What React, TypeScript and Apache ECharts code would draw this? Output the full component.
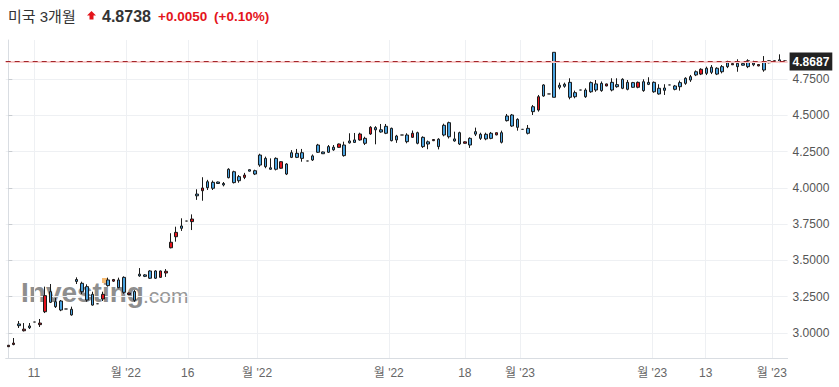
import React, { useEffect, useRef } from 'react';
import * as echarts from 'echarts';

const opens = [
  2.915, 2.930, 3.050, 3.026, 3.036, 3.075, 3.068, 3.257, 3.211, 3.181,
  3.158, 3.165, 3.124, 3.355, 3.284, 3.227, 3.192, 3.201, 3.266, 3.326,
  3.368, 3.312, 3.280, 3.275, 3.225, 3.393, 3.390, 3.377, 3.377, 3.427,
  3.425, 3.625, 3.693, 3.721, 3.771, 3.785, 3.945, 3.999, 4.001, 3.997,
  4.030, 4.020, 4.070, 4.036, 4.049, 4.088, 4.115, 4.095, 4.157, 4.146,
  4.128, 4.128, 4.180, 4.095, 4.210, 4.210, 4.203, 4.185, 4.192, 4.245,
  4.235, 4.245, 4.262, 4.302, 4.222, 4.310, 4.313, 4.371, 4.307, 4.417,
  4.400, 4.385, 4.376, 4.325, 4.330, 4.364, 4.318, 4.376, 4.307, 4.284,
  4.302, 4.333, 4.284, 4.364, 4.352, 4.323, 4.302, 4.317, 4.295, 4.370,
  4.341, 4.337, 4.341, 4.380, 4.314, 4.463, 4.426, 4.417, 4.403, 4.376,
  4.525, 4.628, 4.633, 4.647, 4.624, 4.693, 4.700, 4.624, 4.628, 4.674,
  4.628, 4.662, 4.674, 4.670, 4.716, 4.674, 4.697, 4.686, 4.679, 4.693,
  4.727, 4.670, 4.713, 4.662, 4.647, 4.672, 4.709, 4.679, 4.697, 4.720,
  4.743, 4.778, 4.817, 4.789, 4.796, 4.784, 4.800, 4.835, 4.856, 4.835,
  4.845, 4.835, 4.848, 4.850, 4.812, 4.862, 4.876, 4.866, 4.875,
];

const closes = [
  2.905, 2.920, 3.062, 3.015, 3.048, 3.075, 3.057, 3.146, 3.284, 3.215,
  3.220, 3.165, 3.163, 3.368, 3.342, 3.319, 3.266, 3.201, 3.234, 3.365,
  3.357, 3.365, 3.383, 3.265, 3.285, 3.405, 3.400, 3.427, 3.427, 3.383,
  3.413, 3.587, 3.663, 3.737, 3.771, 3.767, 3.957, 3.980, 4.042, 4.038,
  4.040, 4.030, 4.128, 4.111, 4.077, 4.072, 4.125, 4.118, 4.226, 4.203,
  4.138, 4.203, 4.135, 4.164, 4.242, 4.238, 4.242, 4.185, 4.220, 4.295,
  4.247, 4.284, 4.280, 4.279, 4.295, 4.323, 4.330, 4.330, 4.341, 4.371,
  4.415, 4.400, 4.424, 4.410, 4.357, 4.364, 4.364, 4.348, 4.380, 4.348,
  4.317, 4.325, 4.335, 4.431, 4.449, 4.337, 4.380, 4.307, 4.341, 4.387,
  4.369, 4.369, 4.376, 4.365, 4.380, 4.495, 4.502, 4.472, 4.403, 4.410,
  4.559, 4.536, 4.709, 4.647, 4.934, 4.707, 4.714, 4.727, 4.656, 4.674,
  4.674, 4.725, 4.716, 4.720, 4.702, 4.727, 4.711, 4.748, 4.727, 4.725,
  4.693, 4.731, 4.727, 4.727, 4.686, 4.688, 4.709, 4.702, 4.725, 4.755,
  4.766, 4.800, 4.784, 4.824, 4.831, 4.824, 4.835, 4.862, 4.848, 4.858,
  4.856, 4.876, 4.860, 4.840, 4.869, 4.876, 4.868, 4.882, 4.8687,
];

const lows = [
  2.903, 2.915, 3.034, 3.010, 3.027, 3.075, 3.041, 3.137, 3.206, 3.172,
  3.150, 3.165, 3.119, 3.337, 3.268, 3.215, 3.188, 3.201, 3.220, 3.319,
  3.352, 3.308, 3.270, 3.262, 3.215, 3.387, 3.385, 3.372, 3.372, 3.380,
  3.386, 3.583, 3.629, 3.703, 3.771, 3.709, 3.917, 3.911, 3.985, 3.985,
  4.028, 4.010, 4.065, 4.030, 4.035, 4.060, 4.113, 4.088, 4.145, 4.135,
  4.125, 4.120, 4.132, 4.088, 4.205, 4.205, 4.180, 4.185, 4.185, 4.240,
  4.233, 4.240, 4.255, 4.276, 4.215, 4.305, 4.310, 4.325, 4.295, 4.365,
  4.300, 4.380, 4.370, 4.320, 4.310, 4.364, 4.307, 4.345, 4.300, 4.275,
  4.266, 4.322, 4.265, 4.355, 4.340, 4.318, 4.295, 4.305, 4.275, 4.357,
  4.330, 4.328, 4.335, 4.362, 4.306, 4.457, 4.420, 4.394, 4.403, 4.368,
  4.502, 4.525, 4.628, 4.647, 4.624, 4.679, 4.690, 4.610, 4.617, 4.674,
  4.620, 4.655, 4.662, 4.662, 4.700, 4.665, 4.690, 4.680, 4.672, 4.690,
  4.686, 4.662, 4.708, 4.655, 4.642, 4.640, 4.709, 4.672, 4.670, 4.710,
  4.730, 4.770, 4.777, 4.777, 4.784, 4.777, 4.789, 4.825, 4.846, 4.800,
  4.843, 4.825, 4.838, 4.838, 4.800, 4.858, 4.866, 4.860, 4.866,
];

const highs = [
  2.917, 2.965, 3.082, 3.068, 3.068, 3.075, 3.096, 3.319, 3.337, 3.241,
  3.227, 3.165, 3.181, 3.383, 3.353, 3.335, 3.284, 3.201, 3.284, 3.381,
  3.372, 3.381, 3.390, 3.278, 3.295, 3.447, 3.405, 3.432, 3.432, 3.430,
  3.440, 3.687, 3.732, 3.790, 3.771, 3.817, 3.990, 4.073, 4.055, 4.050,
  4.043, 4.040, 4.135, 4.118, 4.088, 4.103, 4.127, 4.125, 4.235, 4.215,
  4.203, 4.210, 4.183, 4.170, 4.260, 4.268, 4.268, 4.185, 4.230, 4.303,
  4.250, 4.295, 4.295, 4.305, 4.318, 4.376, 4.378, 4.380, 4.352, 4.425,
  4.425, 4.440, 4.440, 4.415, 4.365, 4.364, 4.376, 4.395, 4.387, 4.355,
  4.326, 4.336, 4.342, 4.442, 4.456, 4.387, 4.387, 4.320, 4.348, 4.415,
  4.380, 4.380, 4.385, 4.381, 4.394, 4.509, 4.509, 4.479, 4.403, 4.433,
  4.571, 4.640, 4.714, 4.647, 4.934, 4.725, 4.725, 4.755, 4.670, 4.674,
  4.686, 4.733, 4.743, 4.733, 4.718, 4.755, 4.755, 4.755, 4.743, 4.730,
  4.733, 4.748, 4.762, 4.733, 4.714, 4.714, 4.709, 4.709, 4.739, 4.762,
  4.778, 4.809, 4.824, 4.835, 4.846, 4.831, 4.846, 4.876, 4.858, 4.886,
  4.858, 4.886, 4.876, 4.852, 4.908, 4.878, 4.878, 4.920, 4.878,
];

// x positions (in candle-index units) of the date ticks, and their labels
const xTickPositions = [4.9, 22.4, 34.2, 47.4, 72.5, 87.0, 97.5, 122.7, 132.9, 145.5];
const xTickLabels = ['11', "월 '22", '16', "월 '22", "월 '22", '18', "월 '23", "월 '23", '13', "월 '23"];

const yTickValues = [3.0, 3.25, 3.5, 3.75, 4.0, 4.25, 4.5, 4.75];
const lastPrice = 4.8687;

const title = '미국 3개월';
const quote = '4.8738';
const change = '+0.0050';
const changePct = '(+0.10%)';

const FONT = '"Liberation Sans", Arial, "Noto Sans CJK KR", sans-serif';

export default function App() {
  const ref = useRef<HTMLDivElement>(null);
  useEffect(() => {
    if (!ref.current) return;
    const chart = echarts.init(ref.current, undefined, { renderer: 'svg' });
    const data = opens.map((o, i) => [i, o, closes[i], lows[i], highs[i]]);
    const option: any = {
      animation: false,
      backgroundColor: '#ffffff',
      grid: { left: 5.7, right: 51.4, top: 40, bottom: 29, containLabel: false },
      xAxis: {
        type: 'value',
        min: -0.5,
        max: opens.length - 0.5,
        axisLine: { show: true, lineStyle: { color: '#d9dde2', width: 1 } },
        axisTick: { show: false, customValues: xTickPositions },
        axisLabel: {
          customValues: xTickPositions,
          color: '#666',
          fontSize: 12,
          fontFamily: FONT,
          margin: 9,
          formatter: (v: number) => {
            const k = xTickPositions.findIndex((p) => Math.abs(p - v) < 1e-6);
            return k >= 0 ? xTickLabels[k] : '';
          },
        },
        splitLine: { show: true, lineStyle: { color: '#eef0f3', width: 1 } },
      },
      yAxis: {
        type: 'value',
        position: 'right',
        min: 2.8272,
        max: 5.0188,
        scale: true,
        axisLine: { show: true, lineStyle: { color: '#d9dde2', width: 1 } },
        axisTick: { show: true, customValues: yTickValues, length: 4, lineStyle: { color: '#c8ccd0' } },
        axisLabel: {
          customValues: yTickValues,
          color: '#555',
          fontSize: 12,
          fontFamily: FONT,
          margin: 5,
          formatter: (v: number) => v.toFixed(4),
        },
        splitLine: { show: true, lineStyle: { color: '#eef0f3', width: 1 } },
      },
      graphic: [
        {
          type: 'text', x: 8, y: 16, z: 10,
          style: { text: title, fontSize: 15, fontFamily: FONT, fill: '#333', verticalAlign: 'middle' },
        },
        {
          type: 'polygon', z: 10,
          shape: { points: [[91.5, 11], [96, 15.5], [93.5, 15.5], [93.5, 19.5], [89.5, 19.5], [89.5, 15.5], [87, 15.5]] },
          style: { fill: '#e4141b' },
        },
        {
          type: 'text', x: 102, y: 16, z: 10,
          style: { text: quote, fontSize: 16, fontWeight: 'bold', fontFamily: FONT, fill: '#333', verticalAlign: 'middle' },
        },
        {
          type: 'text', x: 158, y: 16.5, z: 10,
          style: { text: change, fontSize: 13.5, fontWeight: 'bold', fontFamily: FONT, fill: '#e4141b', verticalAlign: 'middle' },
        },
        {
          type: 'text', x: 214, y: 16.5, z: 10,
          style: { text: changePct, fontSize: 13.5, fontWeight: 'bold', fontFamily: FONT, fill: '#e4141b', verticalAlign: 'middle' },
        },
        {
          type: 'text', x: 21, y: 292, z: -1, silent: true,
          style: { text: 'Investing', fontSize: 28, fontWeight: 'bold', fontFamily: FONT, fill: '#8e8e8e', verticalAlign: 'middle' },
        },
        {
          type: 'text', x: 143, y: 295, z: -1, silent: true,
          style: { text: '.com', fontSize: 21, fontFamily: FONT, fill: '#979797', verticalAlign: 'middle' },
        },
        {
          type: 'rect', z: -1, silent: true,
          shape: { x: 102, y: 278, width: 5, height: 5 },
          style: { fill: '#f6bb72' },
        },
      ],
      series: [
        {
          type: 'candlestick',
          data,
          encode: { x: 0, y: [1, 2, 3, 4] },
          barWidth: 3,
          itemStyle: {
            color: '#4aa3e0',
            color0: '#e5121b',
            borderColor: '#1a1a1a',
            borderColor0: '#1a1a1a',
            borderColorDoji: '#333',
            borderWidth: 1,
          },
          markLine: {
            silent: true,
            symbol: ['none', 'none'],
            animation: false,
            data: [
              {
                yAxis: lastPrice,
                lineStyle: { color: '#f7c9c9', type: 'solid', width: 2 },
                label: { show: false },
              },
              {
                yAxis: lastPrice,
                lineStyle: { color: '#a3262a', type: [5, 4], width: 1 },
                label: {
                  show: true,
                  position: 'end',
                  distance: 2,
                  formatter: lastPrice.toFixed(4),
                  color: '#fff',
                  fontWeight: 'bold',
                  fontSize: 12,
                  fontFamily: FONT,
                  backgroundColor: '#222',
                  padding: [3, 3, 3, 3],
                },
              },
            ],
          },
        },
      ],
    };
    chart.setOption(option);
    return () => chart.dispose();
  }, []);
  return <div ref={ref} style={{ width: 839, height: 387, position: 'absolute', left: 0, top: 0 }} />;
}
